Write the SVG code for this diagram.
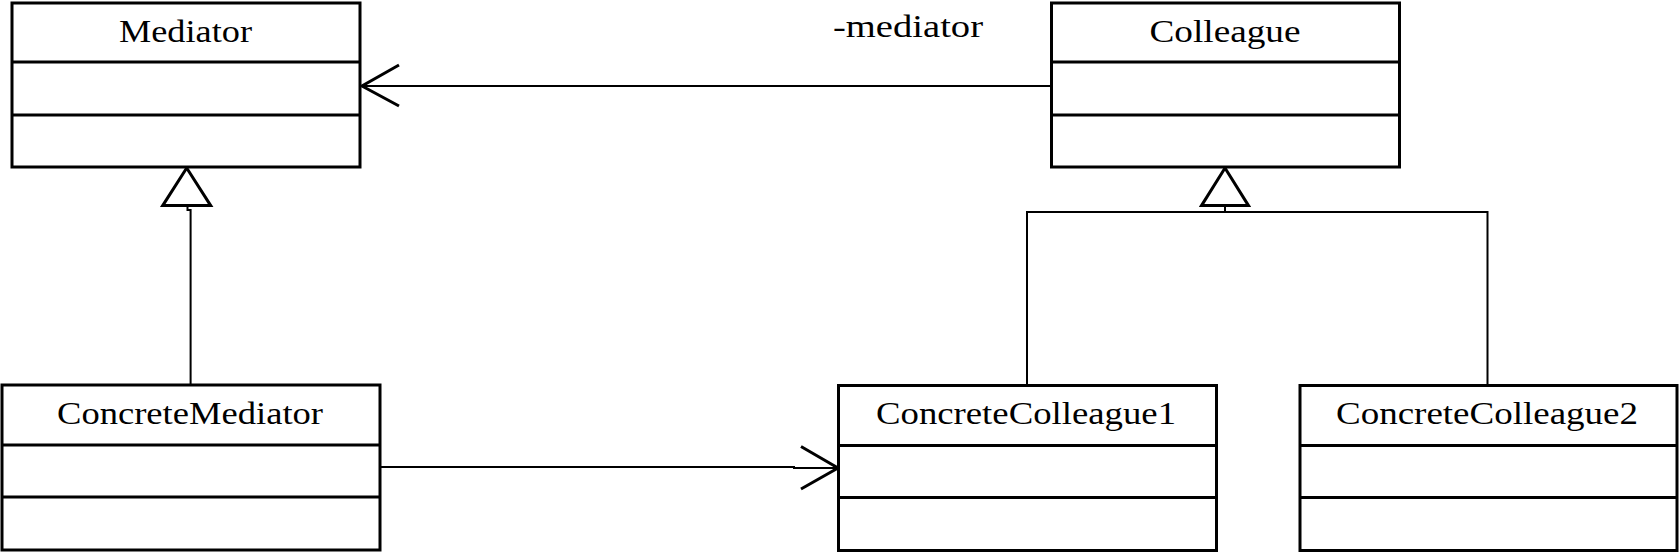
<svg xmlns="http://www.w3.org/2000/svg" width="1679" height="554" viewBox="0 0 1679 554">
<style>
.box{fill:#fff;stroke:#000;stroke-width:3}
.div{stroke:#000;stroke-width:3}
.t{font-family:"Liberation Serif",serif;font-size:32px;fill:#000;text-anchor:middle}
.c{fill:none;stroke:#000;stroke-width:2}
.head{fill:none;stroke:#000;stroke-width:3}
.tri{fill:#fff;stroke:#000;stroke-width:3;stroke-linejoin:miter}
</style>
<rect width="1679" height="554" fill="#fff"/>
<g id="connectors">
<path class="c" d="M1051.5 86 H362"/>
<path class="head" d="M399 65 L362 86 L399 106"/>
<text class="t" x="908" y="37" textLength="150" lengthAdjust="spacingAndGlyphs">-mediator</text>
<path class="c" d="M380 467 H794 V468 H837"/>
<path class="head" d="M801 446.5 L838 468 L801 489"/>
<path class="c" d="M187.5 205.6 V210 H190.6 V385"/>
<path class="tri" d="M186.7 168 L210.7 205.6 L162.7 205.6 Z"/>
<path class="c" d="M1225 205.6 V212 M1027 385.5 V212 H1487.5 V385.5"/>
<path class="tri" d="M1225 168 L1248.5 205.6 L1201.5 205.6 Z"/>
</g>
<g id="Mediator">
<rect class="box" x="12" y="3" width="348" height="164"/>
<line class="div" x1="12" y1="62" x2="360" y2="62"/>
<line class="div" x1="12" y1="115" x2="360" y2="115"/>
<text class="t" x="185.5" y="42" textLength="133" lengthAdjust="spacingAndGlyphs">Mediator</text>
</g>
<g id="Colleague">
<rect class="box" x="1051.5" y="3" width="348" height="164"/>
<line class="div" x1="1051.5" y1="62" x2="1399.5" y2="62"/>
<line class="div" x1="1051.5" y1="115" x2="1399.5" y2="115"/>
<text class="t" x="1225" y="42" textLength="151" lengthAdjust="spacingAndGlyphs">Colleague</text>
</g>
<g id="ConcreteMediator">
<rect class="box" x="2" y="385" width="378" height="165"/>
<line class="div" x1="2" y1="445" x2="380" y2="445"/>
<line class="div" x1="2" y1="497" x2="380" y2="497"/>
<text class="t" x="190" y="424" textLength="266" lengthAdjust="spacingAndGlyphs">ConcreteMediator</text>
</g>
<g id="ConcreteColleague1">
<rect class="box" x="838.5" y="385.5" width="378" height="165"/>
<line class="div" x1="838.5" y1="445.5" x2="1216.5" y2="445.5"/>
<line class="div" x1="838.5" y1="497.5" x2="1216.5" y2="497.5"/>
<text class="t" x="1026" y="424" textLength="300" lengthAdjust="spacingAndGlyphs">ConcreteColleague1</text>
</g>
<g id="ConcreteColleague2">
<rect class="box" x="1300" y="385.5" width="377" height="165"/>
<line class="div" x1="1300" y1="445.5" x2="1677" y2="445.5"/>
<line class="div" x1="1300" y1="497.5" x2="1677" y2="497.5"/>
<text class="t" x="1487" y="424" textLength="302" lengthAdjust="spacingAndGlyphs">ConcreteColleague2</text>
</g>
</svg>
